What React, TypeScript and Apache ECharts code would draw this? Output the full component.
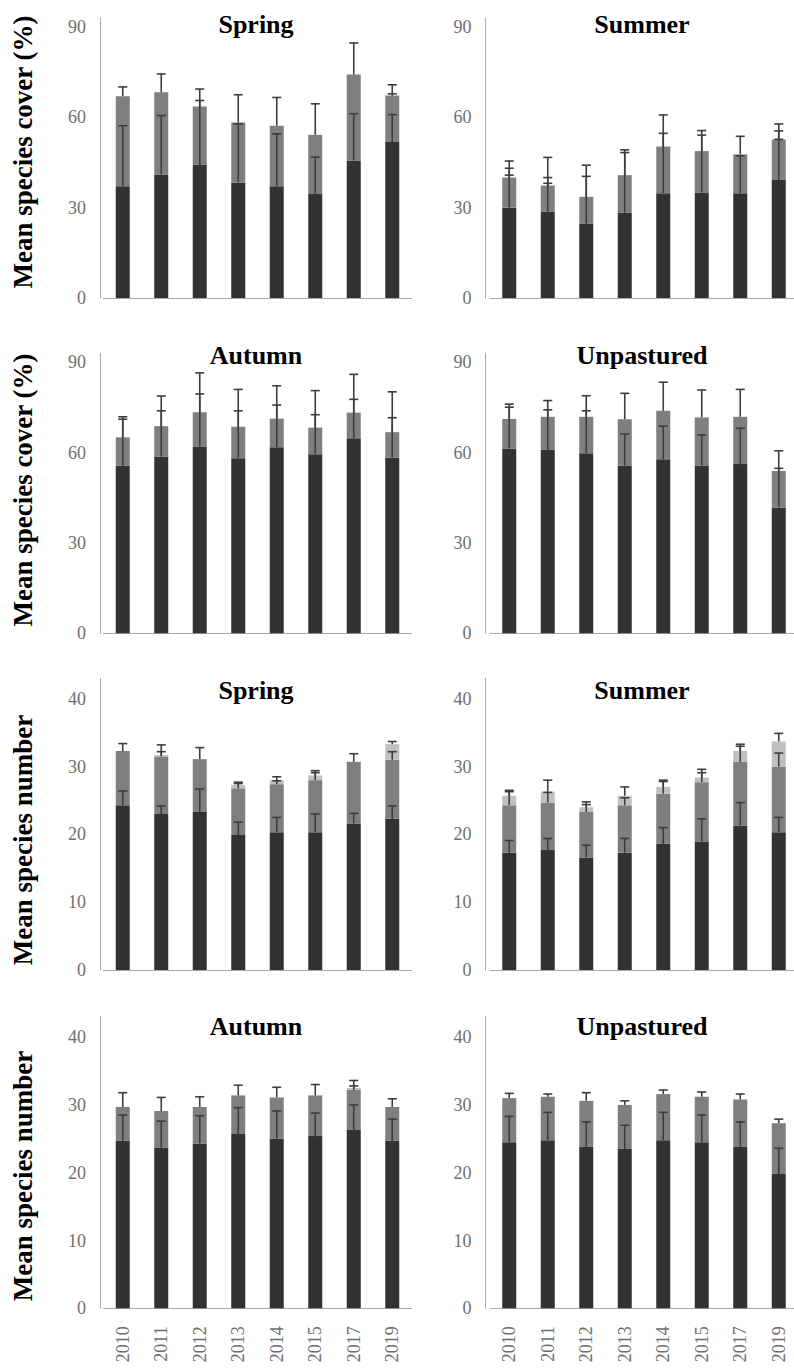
import React, { useEffect, useRef } from 'react';
import * as echarts from 'echarts';

const YEARS = ['2010', '2011', '2012', '2013', '2014', '2015', '2017', '2019'];

// Mean species cover (%) — A: dark segment, B: mid-grey segment, C: light segment
const SPRING_COVER_A = [37.1, 41.0, 44.2, 38.4, 37.1, 34.5, 45.7, 51.8];
const SPRING_COVER_B = [29.9, 27.3, 19.4, 19.9, 20.1, 19.7, 28.5, 15.4];
const SPRING_COVER_C = [0, 0, 0, 0, 0, 0, 0, 0.3];
const SPRING_COVER_A_ERR = [20.1, 19.6, 21.4, 19.4, 17.4, 12.3, 15.5, 9.1];
const SPRING_COVER_B_ERR = [3.1, 6.1, 5.8, 9.2, 9.4, 10.3, 10.5, 0.6];
const SPRING_COVER_C_ERR = [0, 0, 0, 0, 0, 0, 0, 3.3];

const SUMMER_COVER_A = [30.0, 28.7, 24.6, 28.3, 34.8, 35.0, 34.8, 39.2];
const SUMMER_COVER_B = [9.9, 8.5, 9.0, 12.5, 15.5, 13.8, 12.9, 13.3];
const SUMMER_COVER_C = [0.3, 0.3, 0, 0, 0, 0, 0, 0.3];
const SUMMER_COVER_A_ERR = [10.8, 9.4, 15.8, 20.0, 19.9, 19.1, 12.4, 13.5];
const SUMMER_COVER_B_ERR = [3.2, 2.8, 10.5, 8.4, 10.5, 6.8, 6.0, 3.0];
const SUMMER_COVER_C_ERR = [5.3, 9.2, 0, 0, 0, 0, 0, 5.0];

const AUTUMN_COVER_A = [55.6, 58.7, 62.0, 58.1, 61.8, 59.5, 64.8, 58.4];
const AUTUMN_COVER_B = [9.5, 10.1, 11.4, 10.5, 9.5, 8.8, 8.5, 8.4];
const AUTUMN_COVER_C = [0, 0, 0, 0, 0, 0, 0, 0];
const AUTUMN_COVER_A_ERR = [15.5, 15.2, 17.5, 15.8, 14.0, 13.1, 12.9, 13.2];
const AUTUMN_COVER_B_ERR = [6.8, 10.0, 13.1, 12.4, 10.9, 12.3, 12.7, 13.4];
const AUTUMN_COVER_C_ERR = [0, 0, 0, 0, 0, 0, 0, 0];

const UNPAST_COVER_A = [61.4, 60.9, 59.8, 55.7, 57.8, 55.7, 56.2, 41.8];
const UNPAST_COVER_B = [9.8, 11.0, 12.1, 15.4, 16.1, 16.0, 15.7, 12.1];
const UNPAST_COVER_C = [0, 0, 0, 0, 0, 0, 0, 0];
const UNPAST_COVER_A_ERR = [13.7, 13.3, 14.1, 10.5, 11.0, 10.2, 11.9, 13.0];
const UNPAST_COVER_B_ERR = [4.9, 5.4, 7.0, 8.6, 9.5, 9.1, 9.1, 6.7];
const UNPAST_COVER_C_ERR = [0, 0, 0, 0, 0, 0, 0, 0];

// Mean species number
const SPRING_NUM_A = [24.3, 23.0, 23.3, 19.9, 20.3, 20.3, 21.6, 22.3];
const SPRING_NUM_B = [8.0, 8.5, 7.8, 6.9, 7.1, 7.7, 9.1, 8.7];
const SPRING_NUM_C = [0, 0.2, 0, 0.5, 0.6, 0.7, 0, 2.3];
const SPRING_NUM_A_ERR = [2.1, 1.2, 3.4, 1.9, 2.2, 2.7, 1.5, 1.9];
const SPRING_NUM_B_ERR = [1.1, 0.7, 1.7, 0.7, 0.5, 1.1, 1.2, 1.2];
const SPRING_NUM_C_ERR = [0, 1.5, 0, 0.4, 0.5, 0.7, 0, 0.4];

const SUMMER_NUM_A = [17.3, 17.7, 16.6, 17.3, 18.6, 18.9, 21.3, 20.3];
const SUMMER_NUM_B = [7.0, 7.0, 6.7, 7.0, 7.4, 8.8, 9.4, 9.7];
const SUMMER_NUM_C = [1.4, 1.6, 0.7, 1.4, 1.0, 0.7, 1.6, 3.7];
const SUMMER_NUM_A_ERR = [1.8, 1.7, 1.8, 2.1, 2.4, 3.4, 3.4, 2.2];
const SUMMER_NUM_B_ERR = [2.0, 1.5, 1.1, 1.1, 1.8, 1.4, 2.3, 2.0];
const SUMMER_NUM_C_ERR = [0.8, 1.7, 0.8, 1.3, 1.0, 1.2, 1.0, 1.2];

const AUTUMN_NUM_A = [24.7, 23.7, 24.3, 25.7, 25.0, 25.4, 26.3, 24.7];
const AUTUMN_NUM_B = [5.0, 5.4, 5.4, 5.7, 6.1, 6.0, 5.9, 5.0];
const AUTUMN_NUM_C = [0, 0, 0, 0, 0, 0, 0.3, 0];
const AUTUMN_NUM_A_ERR = [3.8, 3.9, 4.1, 3.9, 4.1, 3.4, 3.7, 3.2];
const AUTUMN_NUM_B_ERR = [2.1, 2.0, 1.5, 1.5, 1.5, 1.6, 0.6, 1.2];
const AUTUMN_NUM_C_ERR = [0, 0, 0, 0, 0, 0, 1.1, 0];

const UNPAST_NUM_A = [24.5, 24.8, 23.8, 23.5, 24.8, 24.5, 23.8, 19.8];
const UNPAST_NUM_B = [6.5, 6.4, 6.8, 6.5, 6.8, 6.7, 7.0, 7.5];
const UNPAST_NUM_C = [0, 0, 0, 0, 0, 0, 0, 0];
const UNPAST_NUM_A_ERR = [3.8, 4.1, 3.7, 3.5, 4.1, 4.0, 3.7, 3.8];
const UNPAST_NUM_B_ERR = [0.7, 0.4, 1.2, 0.6, 0.6, 0.7, 0.8, 0.6];
const UNPAST_NUM_C_ERR = [0, 0, 0, 0, 0, 0, 0, 0];

const COVER_TICKS = [0, 30, 60, 90];
const NUMBER_TICKS = [0, 10, 20, 30, 40];

const PANELS = [
  { title: 'Spring', segs: [SPRING_COVER_A, SPRING_COVER_B, SPRING_COVER_C], errs: [SPRING_COVER_A_ERR, SPRING_COVER_B_ERR, SPRING_COVER_C_ERR] },
  { title: 'Summer', segs: [SUMMER_COVER_A, SUMMER_COVER_B, SUMMER_COVER_C], errs: [SUMMER_COVER_A_ERR, SUMMER_COVER_B_ERR, SUMMER_COVER_C_ERR] },
  { title: 'Autumn', segs: [AUTUMN_COVER_A, AUTUMN_COVER_B, AUTUMN_COVER_C], errs: [AUTUMN_COVER_A_ERR, AUTUMN_COVER_B_ERR, AUTUMN_COVER_C_ERR] },
  { title: 'Unpastured', segs: [UNPAST_COVER_A, UNPAST_COVER_B, UNPAST_COVER_C], errs: [UNPAST_COVER_A_ERR, UNPAST_COVER_B_ERR, UNPAST_COVER_C_ERR] },
  { title: 'Spring', segs: [SPRING_NUM_A, SPRING_NUM_B, SPRING_NUM_C], errs: [SPRING_NUM_A_ERR, SPRING_NUM_B_ERR, SPRING_NUM_C_ERR] },
  { title: 'Summer', segs: [SUMMER_NUM_A, SUMMER_NUM_B, SUMMER_NUM_C], errs: [SUMMER_NUM_A_ERR, SUMMER_NUM_B_ERR, SUMMER_NUM_C_ERR] },
  { title: 'Autumn', segs: [AUTUMN_NUM_A, AUTUMN_NUM_B, AUTUMN_NUM_C], errs: [AUTUMN_NUM_A_ERR, AUTUMN_NUM_B_ERR, AUTUMN_NUM_C_ERR] },
  { title: 'Unpastured', segs: [UNPAST_NUM_A, UNPAST_NUM_B, UNPAST_NUM_C], errs: [UNPAST_NUM_A_ERR, UNPAST_NUM_B_ERR, UNPAST_NUM_C_ERR] },
];

const Y_NAMES = ['Mean species cover (%)', 'Mean species cover (%)', 'Mean species number', 'Mean species number'];

// layout
const ROWS = [
  { zero: 298, ppu: 3.011, max: 93, interval: 30, ticks: COVER_TICKS, titleY: 24, nameY: 152 },
  { zero: 633.3, ppu: 3.011, max: 93, interval: 30, ticks: COVER_TICKS, titleY: 355, nameY: 490 },
  { zero: 970, ppu: 6.78, max: 43, interval: 10, ticks: NUMBER_TICKS, titleY: 690, nameY: 840 },
  { zero: 1308.3, ppu: 6.78, max: 43, interval: 10, ticks: NUMBER_TICKS, titleY: 1026, nameY: 1176 },
];
const COLS = [
  { axisX: 100, gap: 3.5, titleX: 256 },
  { axisX: 485.5, gap: 4.5, titleX: 642 },
];
const BAND = 38.5;
const COLORS = ['#323232', '#7f7f7f', '#c0c0c0'];
const SERIF = '"Liberation Serif", "Times New Roman", serif';

function buildOption() {
  const grid: any[] = [];
  const xAxis: any[] = [];
  const yAxis: any[] = [];
  const series: any[] = [];
  const graphic: any[] = [];

  PANELS.forEach((p, i) => {
    const r = ROWS[Math.floor(i / 2)];
    const c = COLS[i % 2];
    const rowIdx = Math.floor(i / 2);
    const height = r.max * r.ppu;
    grid.push({
      left: c.axisX + c.gap,
      top: r.zero - height,
      width: BAND * YEARS.length,
      height,
      containLabel: false,
      outerBoundsMode: 'none',
    });
    xAxis.push({
      type: 'category',
      gridIndex: i,
      data: YEARS,
      boundaryGap: true,
      axisLine: { show: true, onZero: false, lineStyle: { color: '#a8a8a8', width: 1 } },
      axisTick: { show: false },
      splitLine: { show: false },
      axisLabel: {
        show: rowIdx === 3,
        interval: 0,
        rotate: 90,
        margin: 18,
        fontFamily: SERIF,
        fontSize: 18,
        color: '#6e6e6e',
      },
    });
    yAxis.push({
      type: 'value',
      gridIndex: i,
      min: 0,
      max: r.max,
      interval: r.interval,
      offset: c.gap,
      axisLine: { show: true, onZero: false, lineStyle: { color: '#a8a8a8', width: 1 } },
      axisTick: { show: false },
      splitLine: { show: false },
      axisLabel: {
        formatter: (v: number) => (r.ticks.includes(v) ? String(v) : ''),
        margin: 14,
        fontFamily: SERIF,
        fontSize: 18,
        color: '#6e6e6e',
      },
    });

    const errData: any[] = [];
    const cum = YEARS.map(() => 0);
    p.segs.forEach((seg, s) => {
      series.push({
        type: 'bar',
        name: `seg${s}`,
        xAxisIndex: i,
        yAxisIndex: i,
        stack: `panel${i}`,
        barWidth: 14,
        itemStyle: { color: COLORS[s] },
        data: seg,
        z: 2,
      });
      seg.forEach((v, k) => {
        cum[k] += v;
        const e = p.errs[s][k];
        if (e > 0) errData.push([k, cum[k], cum[k] + e]);
      });
    });
    series.push({
      type: 'custom',
      xAxisIndex: i,
      yAxisIndex: i,
      z: 5,
      encode: { x: 0, y: [1, 2] },
      data: errData,
      renderItem: (params: any, api: any) => {
        const x = api.value(0);
        const p0 = api.coord([x, api.value(1)]);
        const p1 = api.coord([x, api.value(2)]);
        const style = { stroke: '#3d3d3d', lineWidth: 1.6 };
        return {
          type: 'group',
          children: [
            { type: 'line', shape: { x1: p0[0], y1: p0[1], x2: p1[0], y2: p1[1] }, style },
            { type: 'line', shape: { x1: p1[0] - 4.5, y1: p1[1], x2: p1[0] + 4.5, y2: p1[1] }, style },
          ],
        };
      },
    });

    graphic.push({
      type: 'text',
      x: c.titleX,
      y: r.titleY,
      style: {
        text: p.title,
        fontFamily: SERIF,
        fontSize: 26,
        fontWeight: 'bold',
        fill: '#000',
        align: 'center',
        verticalAlign: 'middle',
        textAlign: 'center',
        textVerticalAlign: 'middle',
      },
    });
  });

  ROWS.forEach((r, k) => {
    graphic.push({
      type: 'text',
      x: 23,
      y: r.nameY,
      rotation: Math.PI / 2,
      style: {
        text: Y_NAMES[k],
        fontFamily: SERIF,
        fontSize: 27,
        fontWeight: 'bold',
        fill: '#000',
        align: 'center',
        verticalAlign: 'middle',
        textAlign: 'center',
        textVerticalAlign: 'middle',
      },
    });
  });

  return {
    animation: false,
    backgroundColor: '#ffffff',
    grid,
    xAxis,
    yAxis,
    series,
    graphic,
  };
}

export default function App() {
  const ref = useRef<HTMLDivElement>(null);
  useEffect(() => {
    if (!ref.current) return;
    const chart = echarts.init(ref.current, undefined, { renderer: 'svg' });
    chart.setOption(buildOption() as any);
    return () => chart.dispose();
  }, []);
  return (
    <div
      ref={ref}
      style={{ position: 'absolute', left: 0, top: 0, width: 794, height: 1371, background: '#fff' }}
    />
  );
}
